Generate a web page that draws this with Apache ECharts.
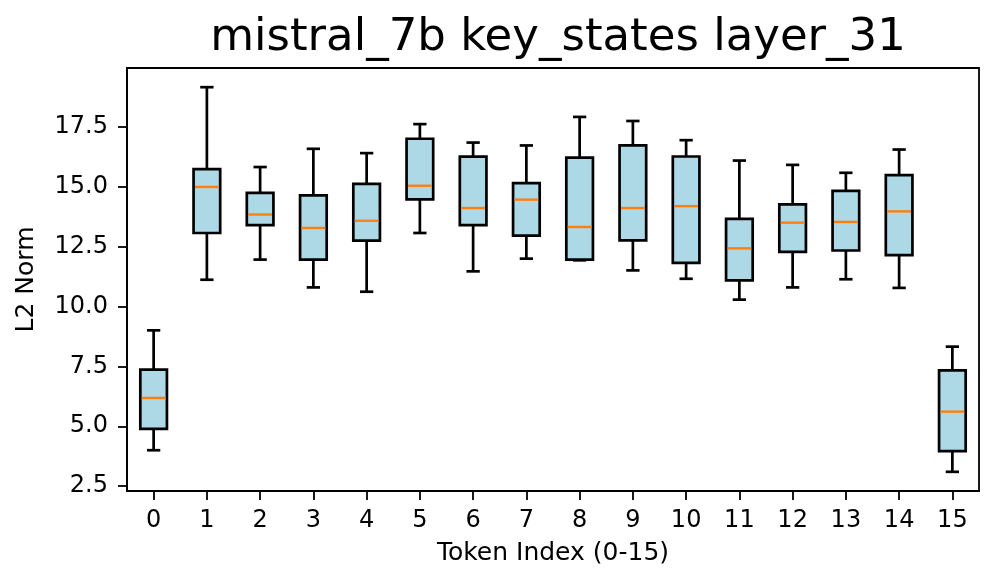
<!DOCTYPE html>
<html>
<head>
<meta charset="utf-8">
<script src="https://cdn.jsdelivr.net/npm/echarts@6/dist/echarts.min.js"></script>
<style>html,body{margin:0;padding:0;background:#fff}#c{width:997px;height:587px}</style>
</head>
<body>
<div id="c"></div>
<script>
const categories = ['0','1','2','3','4','5','6','7','8','9','10','11','12','13','14','15'];
const whiskerLow  = [4.0, 11.11, 11.95, 10.79, 10.61, 13.06, 11.46, 11.99, 11.92, 11.50, 11.15, 10.28, 10.79, 11.13, 10.77, 3.10];
const q1Values    = [4.89, 13.06, 13.39, 11.95, 12.74, 14.46, 13.39, 12.95, 11.95, 12.75, 11.81, 11.08, 12.27, 12.33, 12.14, 3.96];
const medians     = [6.18, 14.98, 13.83, 13.27, 13.57, 15.03, 14.10, 14.45, 13.31, 14.10, 14.18, 12.42, 13.49, 13.52, 13.96, 5.61];
const q3Values    = [7.36, 15.72, 14.73, 14.63, 15.11, 16.99, 16.24, 15.14, 16.20, 16.71, 16.25, 13.65, 14.25, 14.82, 15.47, 7.33];
const whiskerHigh = [9.0, 19.14, 15.81, 16.57, 16.39, 17.60, 16.83, 16.71, 17.90, 17.73, 16.93, 16.08, 15.90, 15.57, 16.54, 8.32];
const yTicks = [2.5, 5.0, 7.5, 10.0, 12.5, 15.0, 17.5];

const data = categories.map((c, i) => [i, whiskerLow[i], q1Values[i], medians[i], q3Values[i], whiskerHigh[i]]);

const chart = echarts.init(document.getElementById('c'), null, {renderer: 'canvas'});
const font = 'DejaVu Sans';

function renderItem(params, api) {
  const x = api.value(0);
  const pMin = api.coord([x, api.value(1)]);
  const pQ1 = api.coord([x, api.value(2)]);
  const pMed = api.coord([x, api.value(3)]);
  const pQ3 = api.coord([x, api.value(4)]);
  const pMax = api.coord([x, api.value(5)]);
  const band = api.size([1, 0])[0];
  const bw = band * 0.5;
  const cw = bw * 0.5;
  const cx = pMed[0];
  const lw = 2.7;
  const stroke = {stroke: '#000', lineWidth: lw};
  return {
    type: 'group',
    children: [
      {type: 'line', shape: {x1: cx, y1: pQ3[1], x2: cx, y2: pMax[1]}, style: stroke},
      {type: 'line', shape: {x1: cx, y1: pQ1[1], x2: cx, y2: pMin[1]}, style: stroke},
      {type: 'line', shape: {x1: cx - cw / 2, y1: pMax[1], x2: cx + cw / 2, y2: pMax[1]}, style: stroke},
      {type: 'line', shape: {x1: cx - cw / 2, y1: pMin[1], x2: cx + cw / 2, y2: pMin[1]}, style: stroke},
      {type: 'rect', shape: {x: cx - bw / 2, y: pQ3[1], width: bw, height: pQ1[1] - pQ3[1]},
        style: {fill: '#ADD8E6', stroke: '#000', lineWidth: lw}},
      {type: 'line', shape: {x1: cx - bw / 2 + 1.4, y1: pMed[1], x2: cx + bw / 2 - 1.4, y2: pMed[1]},
        style: {stroke: '#ff7f0e', lineWidth: 2.4}}
    ]
  };
}

chart.setOption({
  animation: false,
  backgroundColor: '#fff',
  title: {
    text: 'mistral_7b key_states layer_31',
    left: 553, top: 11, textAlign: 'center',
    textStyle: {fontFamily: font, fontSize: 45, fontWeight: 'normal', color: '#000'}
  },
  grid: {left: 127, right: 18, top: 68, bottom: 96, show: true, borderColor: '#000', borderWidth: 1.8, backgroundColor: 'transparent'},
  xAxis: {
    type: 'category',
    data: categories,
    boundaryGap: true,
    name: 'Token Index (0-15)',
    nameLocation: 'middle',
    nameGap: 50,
    nameTextStyle: {fontFamily: font, fontSize: 25, color: '#000'},
    axisLine: {show: true, lineStyle: {color: '#000', width: 1.8}},
    axisTick: {show: true, alignWithLabel: true, inside: false, length: 9, lineStyle: {color: '#000', width: 1.8}},
    axisLabel: {fontFamily: font, fontSize: 24, color: '#000', margin: 18, interval: 0},
    splitLine: {show: false}
  },
  yAxis: {
    type: 'value',
    min: 2.3, max: 19.94,
    name: 'L2 Norm',
    nameLocation: 'middle',
    nameGap: 88,
    nameTextStyle: {fontFamily: font, fontSize: 25, color: '#000'},
    axisLine: {show: true, lineStyle: {color: '#000', width: 1.8}},
    axisTick: {show: true, length: 9, lineStyle: {color: '#000', width: 1.8}, customValues: yTicks},
    axisLabel: {fontFamily: font, fontSize: 24, color: '#000', margin: 19, customValues: yTicks,
      formatter: v => Number(v).toFixed(1)},
    splitLine: {show: false}
  },
  series: [{
    type: 'custom',
    renderItem: renderItem,
    encode: {x: 0, y: [1, 2, 3, 4, 5]},
    data: data,
    clip: false
  }]
});
</script>
</body>
</html>
